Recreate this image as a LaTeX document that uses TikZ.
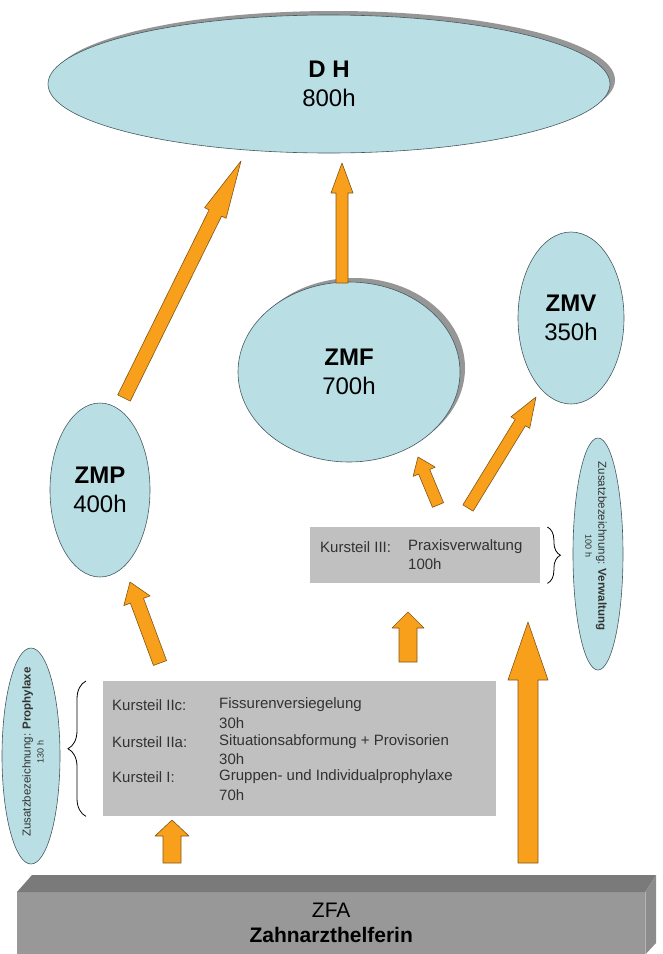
\documentclass[tikz,border=0pt]{standalone}
\usepackage{fontspec}
\setmainfont{Liberation Sans}
\usetikzlibrary{shapes.geometric,calc,shadows,decorations.pathreplacing}

\definecolor{ovalblue}{RGB}{185,223,228}
\definecolor{ovalline}{RGB}{70,90,95}
\definecolor{shadowgray}{RGB}{150,150,150}
\definecolor{boxgray}{RGB}{192,192,192}
\definecolor{arroworange}{RGB}{248,160,28}
\definecolor{arrowline}{RGB}{130,85,20}
\definecolor{slabfront}{RGB}{152,152,152}
\definecolor{slabtop}{RGB}{122,122,122}
\definecolor{slabside}{RGB}{140,140,140}
\definecolor{textgray}{RGB}{50,50,50}

\begin{document}
\begin{tikzpicture}[
    x=1pt,
    y=-1pt,
    oval/.style={ellipse, draw=ovalline, fill=ovalblue, line width=0.6pt,
        inner sep=0pt, align=center, font=\fontsize{24}{29}\selectfont},
    shade/.style={drop shadow={shadow xshift=5pt, shadow yshift=4pt,
        fill=shadowgray, opacity=1}},
    extra/.style={rotate=#1, align=center, text=textgray,
        font=\fontsize{11.5}{13}\selectfont},
    course/.style={fill=boxgray, inner sep=0pt},
    line/.style={anchor=west, text=textgray, inner sep=0pt,
        font=\fontsize{15}{18}\selectfont},
    blockarrow/.style={fill=arroworange, draw=arrowline, line width=0.6pt,
        line join=round},
    curly/.style={decorate, decoration={brace, amplitude=#1}, line width=0.8pt}
]
\useasboundingbox (0,0) rectangle (662,954);

% Ovals
\node[oval, shade, minimum width=562pt, minimum height=138pt] (dh) at (329,84)
    {\textbf{D H}\\800h};
\node[oval, shade, minimum width=222pt, minimum height=180pt] (zmf) at (349,372)
    {\textbf{ZMF}\\700h};
\node[oval, minimum width=106pt, minimum height=172pt] (zmv) at (571,318)
    {\textbf{ZMV}\\350h};
\node[oval, minimum width=100pt, minimum height=174pt] (zmp) at (100,490)
    {\textbf{ZMP}\\400h};
\node[oval, minimum width=58pt, minimum height=216pt] (proph) at (31,756) {};
\node[oval, minimum width=50pt, minimum height=232pt] (verw) at (598,554) {};
\node[extra=90] (proph-text) at (33,752)
    {Zusatzbezeichnung: \textbf{Prophylaxe}\\{\fontsize{9}{10}\selectfont 130 h}};
\node[extra=-90] (verw-text) at (596,546)
    {Zusatzbezeichnung: \textbf{Verwaltung}\\{\fontsize{9}{10}\selectfont 100 h}};

% Course boxes
\node[course, anchor=north west, minimum width=393pt, minimum height=135pt]
    (ks) at (103,681) {};
\node[course, anchor=north west, minimum width=230pt, minimum height=56pt]
    (k3) at (310,527) {};

\foreach \y/\left/\right [count=\i] in {
    705/Kursteil IIc:/Fissurenversiegelung,
    723//30h,
    742/Kursteil IIa:/Situationsabformung + Provisorien,
    759//30h,
    777/Kursteil I:/Gruppen- und Individualprophylaxe,
    795//70h
} {
    \node[line] (ks-l\i) at (112,\y) {\left};
    \node[line] (ks-r\i) at (219,\y) {\right};
}
\node[line] (k3-l) at (320,547) {Kursteil III:};
\node[line] (k3-r1) at (408,547) {Praxisverwaltung};
\node[line] (k3-r2) at (408,564) {100h};

% Braces
\coordinate (ks-brace-b) at ($(ks.south west)+(-17,0)$);
\coordinate (ks-brace-t) at ($(ks.north west)+(-17,0)$);
\draw[curly=18pt] (ks-brace-b) -- (ks-brace-t);
\coordinate (k3-brace-t) at ($(k3.north east)+(7,0)$);
\coordinate (k3-brace-b) at ($(k3.south east)+(7,0)$);
\draw[curly=13pt] (k3-brace-t) -- (k3-brace-b);

% ZFA block
\node[fill=slabfront, anchor=north west, minimum width=628pt, minimum height=62pt,
    inner sep=0pt, align=center, font=\fontsize{21}{25}\selectfont] (zfa)
    at (17,892) {ZFA\\\textbf{Zahnarzthelferin}};
\fill[slabtop] (zfa.north west) -- ++(15,-17) -- (656,875) -- (zfa.north east) -- cycle;
\fill[slabside] (zfa.north east) -- (656,875) -- (656,943) -- (zfa.south east) -- cycle;

% Arrow ends
\coordinate (zmp-out) at (124,398);
\coordinate (dh-in-l) at (241,161);
\coordinate (zmf-out) at (342,283);
\coordinate (dh-in-r) at (342,163);
\coordinate (k3-out-l) at (438,505);
\coordinate (zmf-in) at (418,457);
\coordinate (k3-out-r) at (468,508);
\coordinate (zmv-in) at (536,397);
\coordinate (ks-out-l) at (160,663);
\coordinate (zmp-in) at (130,582);
\coordinate (ks-out-r) at (408,662);
\coordinate (k3-in) at (408,612);
\coordinate (zfa-out-l) at (172,863);
\coordinate (ks-in) at (172,820);
\coordinate (zfa-out-r) at (528,863);
\coordinate (k3-in-r) at (528,622);

% Arrows
\foreach \ta/\tb/\sw/\hw/\hl in {
    zmp-out/dh-in-l/7pt/12pt/58pt,
    zmf-out/dh-in-r/6pt/11pt/30pt,
    k3-out-l/zmf-in/6pt/12pt/16pt,
    k3-out-r/zmv-in/6pt/11pt/30pt,
    ks-out-l/zmp-in/7pt/14pt/20pt,
    ks-out-r/k3-in/9pt/16pt/16pt,
    zfa-out-l/ks-in/9pt/17pt/16pt,
    zfa-out-r/k3-in-r/10pt/20pt/58pt
} {
    \coordinate (base) at ($(\tb)!\hl!(\ta)$);
    \draw[blockarrow] ($(\ta)!\sw!90:(\tb)$) -- ($(base)!\sw!90:(\tb)$)
        -- ($(base)!\hw!90:(\tb)$) -- (\tb) -- ($(base)!\hw!-90:(\tb)$)
        -- ($(base)!\sw!-90:(\tb)$) -- ($(\ta)!\sw!-90:(\tb)$) -- cycle;
}

\end{tikzpicture}
\end{document}
